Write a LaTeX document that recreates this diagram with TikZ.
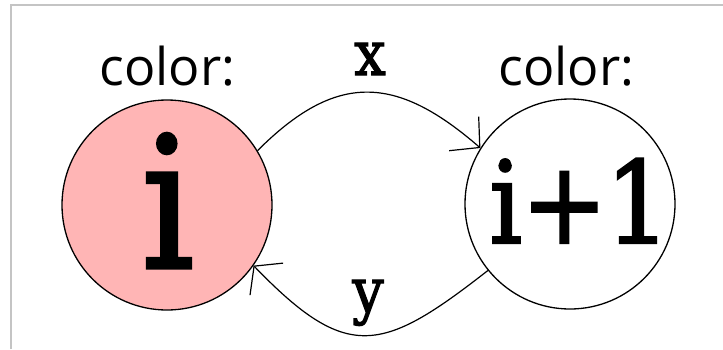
\documentclass[tikz,border=0pt]{standalone}
\usepackage{fontspec}
\newfontfamily\labelsans{Open Sans}
\newfontfamily\glyphserif[FakeBold=1.8,FakeStretch=0.9]{DejaVu Serif}
\usetikzlibrary{arrows.meta}
\definecolor{pinkfill}{RGB}{255,181,181}
\definecolor{framegray}{RGB}{196,196,196}
\begin{document}
\begin{tikzpicture}[x=1pt,y=-1pt,
  state/.style={circle,draw=black,line width=1.3pt,minimum size=210pt,inner sep=0pt},
  colorlbl/.style={anchor=base,inner sep=0pt,font=\labelsans\fontsize{52}{52}\selectfont},
  bigtt/.style={anchor=base,inner sep=0pt,font=\glyphserif\fontsize{#1}{#1}\selectfont},
  conn/.style={line width=1.2pt}]
\useasboundingbox (0,0) rectangle (723,349);
\draw[framegray,line width=1.2pt] (11,349) -- (11,5) -- (723,5);
\node[state,fill=pinkfill] (L) at (167,205) {};
\node[state,fill=white] (R) at (570,204) {};
\node[bigtt=183] (li) at (168,268) {i};
\node[bigtt=114] (ri) at (580,243) {i\kern-1pt+\kern-2pt1};
\node[colorlbl] (lc) at (167.5,85) {color:};
\node[colorlbl] (rc) at (566.5,85) {color:};
\node[bigtt=62] (xl) at (370,75) {x};
\node[bigtt=62] (yl) at (368,312) {y};
\draw[conn,-{Straight Barb[length=21pt,width=45pt]}] (L.31) to[out=45,in=139,looseness=1.28] (R.148);
\draw[conn,-{Straight Barb[length=18pt,width=46pt]}] (R.219) to[out=218,in=314,looseness=1.47] (L.-35);
\end{tikzpicture}
\end{document}
